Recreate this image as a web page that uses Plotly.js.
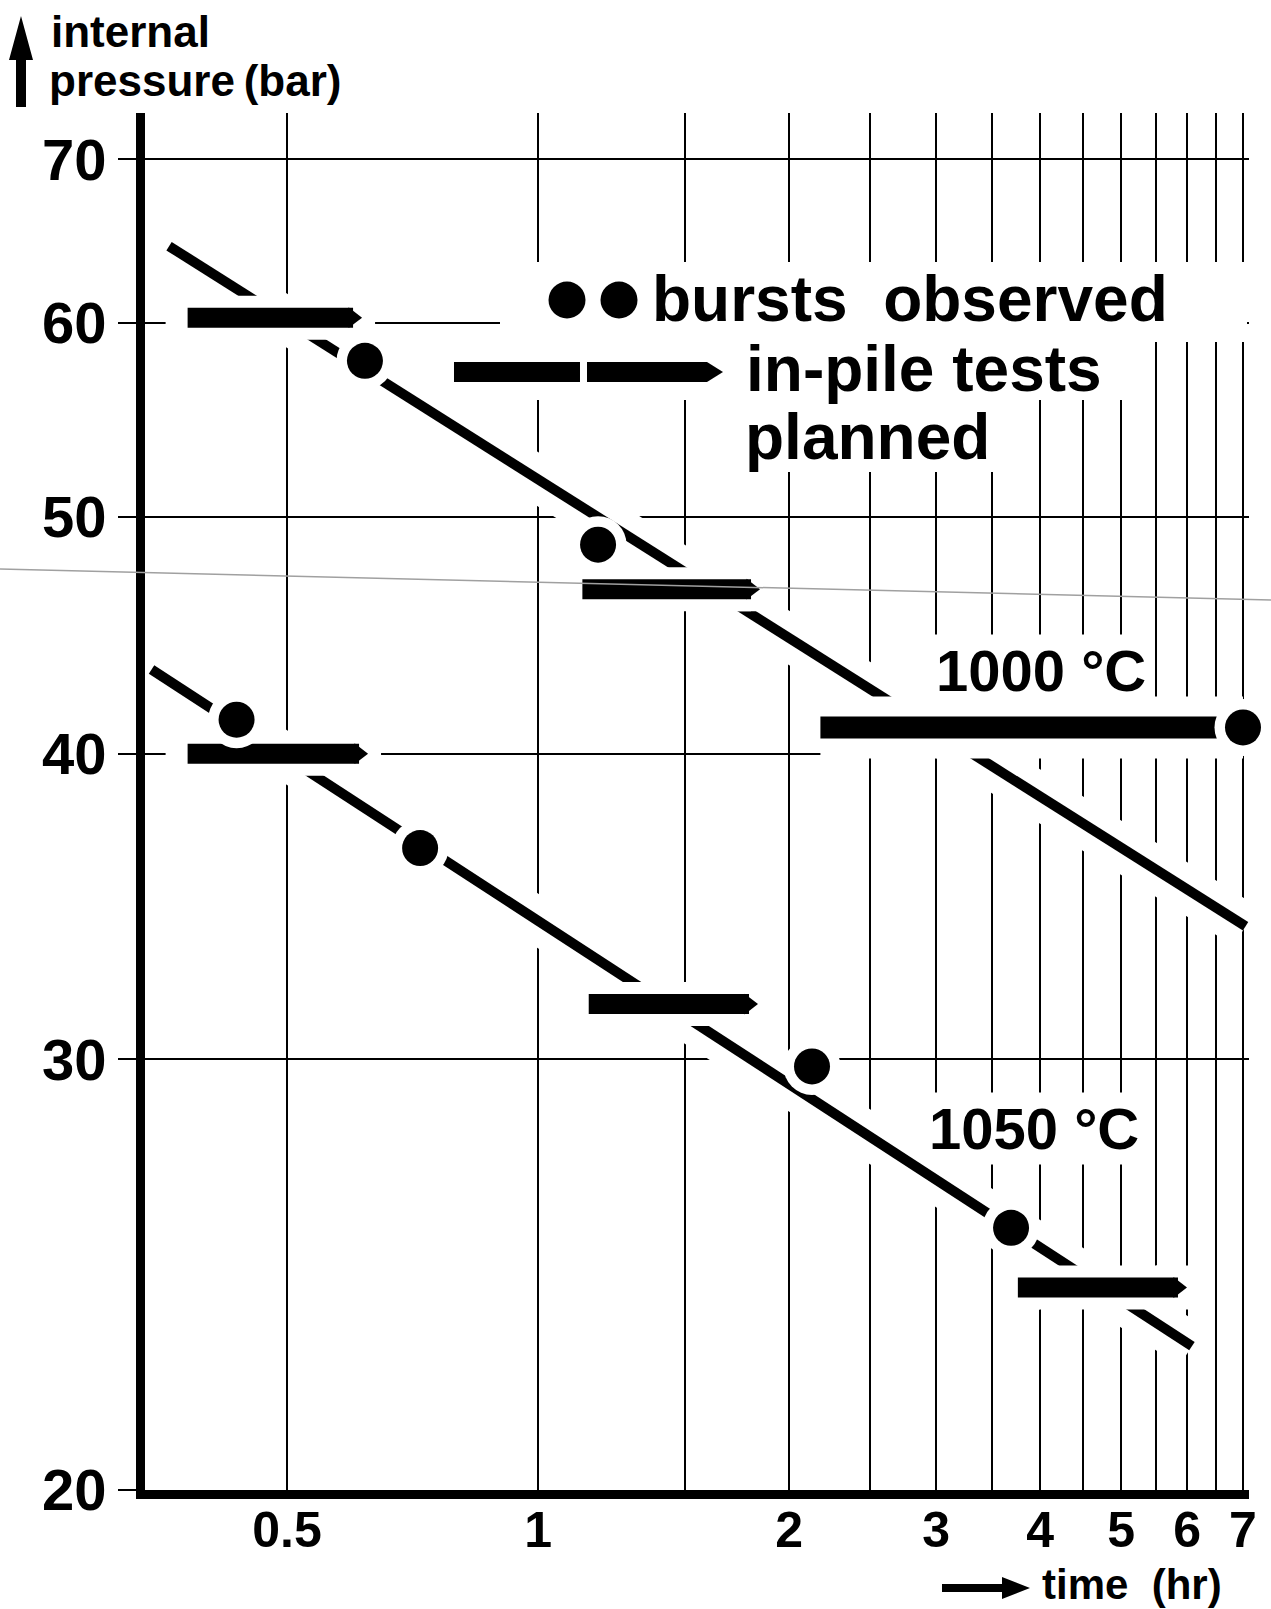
<!DOCTYPE html>
<html><head><meta charset="utf-8">
<script src="https://cdn.plot.ly/plotly-3.0.1.min.js"></script>
<style>html,body{margin:0;padding:0;background:#fff}</style>
</head><body><div id="chart" style="width:1271px;height:1609px"></div>
<script>
// ---------------- data ----------------
const burst1000_t = [0.62, 1.18, 7.0];
const burst1000_p = [57.9, 48.7, 41.0];
const burst1050_t = [0.435, 0.722, 2.13, 3.69];
const burst1050_p = [41.3, 36.6, 29.8, 25.6];
const fit1000_t = [0.361, 7.05];
const fit1000_p = [64.5, 34.0];
const fit1050_t = [0.344, 6.08];
const fit1050_p = [43.3, 22.9];
const planned_start = [0.38, 0.38, 1.13, 1.15, 3.76];
const planned_end   = [0.60, 0.61, 1.80, 1.79, 5.85];
const planned_p     = [60.3, 40.0, 46.7, 31.6, 24.2];
const plannedToBurst_start = [2.18];
const plannedToBurst_end   = [7.0];
const plannedToBurst_p     = [41.0];
const xTickVals = [0.5, 1, 1.5, 2, 2.5, 3, 3.5, 4, 4.5, 5, 5.5, 6, 6.5, 7];
const xTickText = ['0.5', '1', '', '2', '', '3', '', '4', '', '5', '', '6', '', '7'];
const yTickVals = [20, 30, 40, 50, 60, 70];
const yTickText = ['20', '30', '40', '50', '60', '70'];
const labels = {
  yTitle1: 'internal', yTitle2: 'pressure\u2009(bar)', xTitle: 'time\u00a0 (hr)',
  t1000: '1000 \u00b0C', t1050: '1050 \u00b0C',
  leg1: 'bursts\u00a0 observed', leg2: 'in-pile tests', leg3: 'planned'
};

// ---------------- layout helpers ----------------
const L = 145, T = 113, W = 1104, H = 1377;
const px = X => (X - L) / W;
const py = Y => (T + H - Y) / H;
const P = (X, Y) => px(X).toFixed(5) + ',' + py(Y).toFixed(5);
const F = 'Liberation Sans, Arial, sans-serif';

function segs(s, e, p) {
  const x = [], y = [];
  for (let i = 0; i < s.length; i++) { x.push(s[i], e[i], null); y.push(p[i], p[i], null); }
  return {x, y};
}
const pl = segs(planned_start, planned_end, planned_p);
const pb = segs(plannedToBurst_start, plannedToBurst_end, plannedToBurst_p);
const base = {type: 'scatter', hoverinfo: 'skip', showlegend: false, cliponaxis: false};

const traces = [
  // white halos of the fit lines (cut the grid)
  Object.assign({}, base, {x: fit1000_t, y: fit1000_p, mode: 'lines', line: {color: '#fff', width: 46}}),
  Object.assign({}, base, {x: fit1050_t, y: fit1050_p, mode: 'lines', line: {color: '#fff', width: 46}}),
  // fit lines
  Object.assign({}, base, {x: fit1000_t, y: fit1000_p, mode: 'lines', line: {color: '#000', width: 10}}),
  Object.assign({}, base, {x: fit1050_t, y: fit1050_p, mode: 'lines', line: {color: '#000', width: 10}}),
  // planned tests halo
  Object.assign({}, base, {x: pl.x, y: pl.y, mode: 'lines+markers', connectgaps: false,
    line: {color: '#fff', width: 44}, marker: {color: '#fff', size: 44, symbol: 'square'}}),
  Object.assign({}, base, {x: pb.x, y: pb.y, mode: 'lines+markers', connectgaps: false,
    line: {color: '#fff', width: 62}, marker: {color: '#fff', size: 50, symbol: 'square'}}),
  // planned tests bars
  Object.assign({}, base, {x: pl.x, y: pl.y, mode: 'lines', connectgaps: false, line: {color: '#000', width: 20}}),
  Object.assign({}, base, {x: planned_end, y: planned_p, mode: 'markers',
    marker: {color: '#000', size: 18, symbol: 'triangle-right', line: {width: 0}}}),
  Object.assign({}, base, {x: pb.x, y: pb.y, mode: 'lines', connectgaps: false, line: {color: '#000', width: 22}}),
  // bursts halo + bursts
  Object.assign({}, base, {x: burst1000_t.concat(burst1050_t), y: burst1000_p.concat(burst1050_p), mode: 'markers',
    marker: {color: '#fff', size: 57, line: {width: 0}}}),
  Object.assign({}, base, {x: burst1000_t, y: burst1000_p, mode: 'markers', marker: {color: '#000', size: 36, line: {width: 0}}}),
  Object.assign({}, base, {x: burst1050_t, y: burst1050_p, mode: 'markers', marker: {color: '#000', size: 36, line: {width: 0}}})
];

const shapes = [
  // faint scan line across the page
  {type: 'line', xref: 'paper', yref: 'paper', x0: px(0), y0: py(569), x1: px(1271), y1: py(600),
   line: {color: '#a0a0a0', width: 1.5}, layer: 'above'},
  // white legend area
  {type: 'rect', xref: 'paper', yref: 'paper', x0: px(500), x1: px(1247), y0: py(262), y1: py(342), fillcolor: '#fff', line: {width: 0}, layer: 'above'},
  {type: 'rect', xref: 'paper', yref: 'paper', x0: px(440), x1: px(1140), y0: py(342), y1: py(400), fillcolor: '#fff', line: {width: 0}, layer: 'above'},
  {type: 'rect', xref: 'paper', yref: 'paper', x0: px(735), x1: px(1010), y0: py(400), y1: py(472), fillcolor: '#fff', line: {width: 0}, layer: 'above'},
  // legend dots
  {type: 'circle', xref: 'paper', yref: 'paper', x0: px(548.5), x1: px(585.5), y0: py(281.5), y1: py(318.5), fillcolor: '#000', line: {width: 0}, layer: 'above'},
  {type: 'circle', xref: 'paper', yref: 'paper', x0: px(600.5), x1: px(637.5), y0: py(281.5), y1: py(318.5), fillcolor: '#000', line: {width: 0}, layer: 'above'},
  // legend arrow
  {type: 'path', xref: 'paper', yref: 'paper', layer: 'above', fillcolor: '#000', line: {width: 0},
   path: 'M' + P(454, 362) + 'L' + P(580, 362) + 'L' + P(580, 382) + 'L' + P(454, 382) + 'Z'},
  {type: 'path', xref: 'paper', yref: 'paper', layer: 'above', fillcolor: '#000', line: {width: 0},
   path: 'M' + P(587, 362) + 'L' + P(707, 362) + 'L' + P(723, 372) + 'L' + P(707, 382) + 'L' + P(587, 382) + 'Z'},
  // y-title arrow
  {type: 'path', xref: 'paper', yref: 'paper', layer: 'above', fillcolor: '#000', line: {width: 0},
   path: 'M' + P(16, 107) + 'L' + P(26, 107) + 'L' + P(26, 60) + 'L' + P(33, 60) + 'L' + P(21, 16) + 'L' + P(9, 60) + 'L' + P(16, 60) + 'Z'},
  // x-title arrow
  {type: 'path', xref: 'paper', yref: 'paper', layer: 'above', fillcolor: '#000', line: {width: 0},
   path: 'M' + P(942, 1584) + 'L' + P(1002, 1584) + 'L' + P(1002, 1577) + 'L' + P(1030, 1588) + 'L' + P(1002, 1599) + 'L' + P(1002, 1592) + 'L' + P(942, 1592) + 'Z'}
];

function ann(text, X, Y, xanchor, font, extra) {
  return Object.assign({xref: 'paper', yref: 'paper', x: px(X), y: py(Y), xanchor: xanchor, yanchor: 'middle',
    text: text, showarrow: false, font: font}, extra || {});
}
const fTemp = {family: F, size: 58, weight: 'bold', color: '#000'};
const annotations = [
  ann(labels.yTitle1, 49, 31, 'left', {family: F, size: 44, weight: 'bold', color: '#000'}),
  ann(labels.yTitle2, 47, 80, 'left', {family: F, size: 44, weight: 'bold', color: '#000'}),
  ann(labels.xTitle, 1040, 1584, 'left', {family: F, size: 42, weight: 'bold', color: '#000'}),
  ann(labels.t1000, 1041, 670, 'center', fTemp, {bgcolor: '#fff', borderpad: 3}),
  ann(labels.t1050, 1034, 1128, 'center', fTemp, {bgcolor: '#fff', borderpad: 3}),
  ann(labels.leg1, 650, 299, 'left', {family: F, size: 64, weight: 'bold', color: '#000'}),
  ann(labels.leg2, 744, 369, 'left', {family: F, size: 64, weight: 'bold', color: '#000'}),
  ann(labels.leg3, 743, 437, 'left', {family: F, size: 64, weight: 'bold', color: '#000'})
];

const layout = {
  width: 1271, height: 1609,
  margin: {l: L, r: 1271 - L - W, t: T, b: 1609 - T - H},
  paper_bgcolor: '#fff', plot_bgcolor: '#fff',
  showlegend: false,
  xaxis: {
    type: 'log', range: [-0.4713, 0.8523],
    tickmode: 'array', tickvals: xTickVals, ticktext: xTickText,
    showgrid: true, gridcolor: '#000', gridwidth: 2,
    showline: true, linecolor: '#000', linewidth: 9,
    zeroline: false, ticks: '', ticklabelstandoff: -12,
    tickfont: {family: F, size: 50, weight: 'bold', color: '#000'}
  },
  yaxis: {
    type: 'log', range: [Math.log10(20), 1.864],
    tickmode: 'array', tickvals: yTickVals, ticktext: yTickText,
    showgrid: true, gridcolor: '#000', gridwidth: 2,
    showline: true, linecolor: '#000', linewidth: 9,
    zeroline: false, ticks: 'outside', ticklen: 18, tickwidth: 2, tickcolor: '#000',
    tickfont: {family: F, size: 58, weight: 'bold', color: '#000'}
  },
  shapes: shapes,
  annotations: annotations
};

Plotly.newPlot('chart', traces, layout, {displayModeBar: false, responsive: false});
</script>
</body></html>
